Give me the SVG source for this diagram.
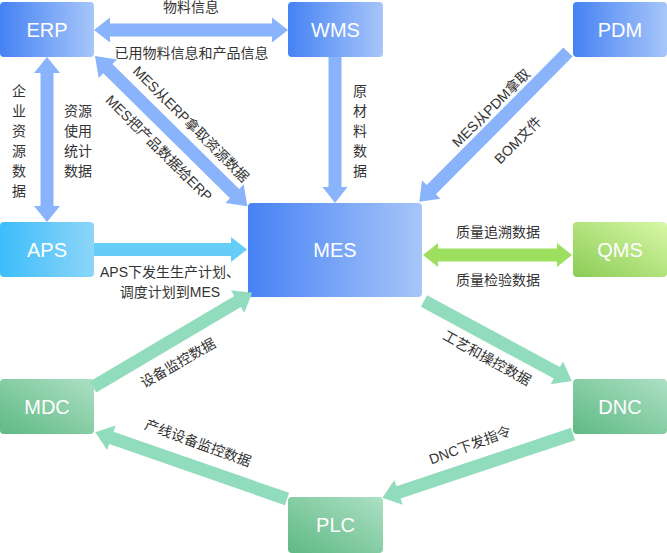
<svg xmlns="http://www.w3.org/2000/svg" width="667" height="553" viewBox="0 0 667 553">
<defs>
<linearGradient id="gBlue" x1="0" y1="0" x2="1" y2="0"><stop offset="0" stop-color="#4682f4"/><stop offset="1" stop-color="#a7c6f9"/></linearGradient>
<linearGradient id="gCyan" x1="0" y1="0" x2="1" y2="0"><stop offset="0" stop-color="#3dbdfb"/><stop offset="1" stop-color="#8cd5f8"/></linearGradient>
<linearGradient id="gLime" x1="0" y1="1" x2="1" y2="0"><stop offset="0" stop-color="#8bcc55"/><stop offset="1" stop-color="#d8f8a6"/></linearGradient>
<linearGradient id="gMint" x1="0" y1="1" x2="1" y2="0"><stop offset="0" stop-color="#5fb984"/><stop offset="1" stop-color="#ace0c4"/></linearGradient>
</defs>
<style>
.nt{font-family:"Liberation Sans","Noto Sans CJK SC",sans-serif;font-size:20px;fill:#ffffff;text-anchor:middle}
.lb{font-family:"Liberation Sans","Noto Sans CJK SC",sans-serif;font-size:14px;fill:#333333;text-anchor:middle}
.ab{fill:#89b3fa}
.ac{fill:#66cdf7}
.al{fill:#9ddf5e}
.am{fill:#92dcbe}
</style>
<g id="ERP"><rect x="0" y="2" width="94" height="55" rx="4" fill="url(#gBlue)"/><text class="nt" x="47" y="37">ERP</text></g>
<g id="WMS"><rect x="288" y="2" width="95" height="55" rx="4" fill="url(#gBlue)"/><text class="nt" x="335.5" y="37">WMS</text></g>
<g id="PDM"><rect x="573" y="2" width="94" height="55" rx="4" fill="url(#gBlue)"/><text class="nt" x="620" y="37">PDM</text></g>
<g id="APS"><rect x="0" y="222" width="94" height="55" rx="4" fill="url(#gCyan)"/><text class="nt" x="47" y="257">APS</text></g>
<g id="MES"><rect x="248" y="203" width="174" height="94" rx="4" fill="url(#gBlue)"/><text class="nt" x="335" y="257">MES</text></g>
<g id="QMS"><rect x="573" y="222" width="94" height="55" rx="4" fill="url(#gLime)"/><text class="nt" x="620" y="257">QMS</text></g>
<g id="MDC"><rect x="0" y="379" width="94" height="55" rx="4" fill="url(#gMint)"/><text class="nt" x="47" y="414">MDC</text></g>
<g id="DNC"><rect x="573" y="379" width="94" height="55" rx="4" fill="url(#gMint)"/><text class="nt" x="620" y="414">DNC</text></g>
<g id="PLC"><rect x="288" y="497" width="95" height="56" rx="4" fill="url(#gMint)"/><text class="nt" x="335.5" y="532">PLC</text></g>
<g id="connectors">
<polygon class="ab" transform="translate(94,30)" points="0,0 16,-12.5 16,-6.5 178,-6.5 178,-12.5 194,0 178,12.5 178,6.5 16,6.5 16,12.5"/>
<polygon class="ab" transform="translate(47,57) rotate(90)" points="0,0 16,-13 16,-6.5 149,-6.5 149,-13 165,0 149,13 149,6.5 16,6.5 16,13"/>
<polygon class="ab" transform="translate(335,57) rotate(90)" points="0,-6.5 130,-6.5 130,-12.5 146,0 130,12.5 130,6.5 0,6.5"/>
<polygon class="ab" transform="translate(95,56) rotate(44.6)" points="0,0 18,-13 18,-6.5 196,-6.5 196,-13 214,0 196,13 196,6.5 18,6.5 18,13"/>
<polygon class="ab" transform="translate(568,52) rotate(134.8)" points="0,-6.5 194,-6.5 194,-13 211,0 194,13 194,6.5 0,6.5"/>
<polygon class="ac" transform="translate(94,249.5)" points="0,-6.5 137,-6.5 137,-12.5 153,0 137,12.5 137,6.5 0,6.5"/>
<polygon class="al" transform="translate(423,255)" points="0,0 15,-12 15,-6.5 134,-6.5 134,-12 149,0 134,12 134,6.5 15,6.5 15,12"/>
<polygon class="am" transform="translate(93,387) rotate(-30.6)" points="0,-6.5 168,-6.5 168,-13 185,0 168,13 168,6.5 0,6.5"/>
<polygon class="am" transform="translate(424,301) rotate(28.4)" points="0,-6.5 151,-6.5 151,-13 168,0 151,13 151,6.5 0,6.5"/>
<polygon class="am" transform="translate(573,434) rotate(161.5)" points="0,-6.5 184,-6.5 184,-13 201,0 184,13 184,6.5 0,6.5"/>
<polygon class="am" transform="translate(287,499) rotate(-160.8)" points="0,-6.5 186,-6.5 186,-13 203,0 186,13 186,6.5 0,6.5"/>
</g>
<g id="labels">
<text class="lb" x="191" y="12">物料信息</text>
<text class="lb" x="191.5" y="58">已用物料信息和产品信息</text>
<text class="lb" x="19" y="96">企</text><text class="lb" x="19" y="116">业</text><text class="lb" x="19" y="136">资</text><text class="lb" x="19" y="156">源</text><text class="lb" x="19" y="176">数</text><text class="lb" x="19" y="196">据</text>
<text class="lb" x="78" y="116">资源</text><text class="lb" x="78" y="136">使用</text><text class="lb" x="78" y="156">统计</text><text class="lb" x="78" y="176">数据</text>
<text class="lb" x="360" y="96">原</text><text class="lb" x="360" y="116">材</text><text class="lb" x="360" y="136">料</text><text class="lb" x="360" y="156">数</text><text class="lb" x="360" y="176">据</text>
<text class="lb" transform="translate(191,124) rotate(45)" y="5">MES从ERP拿取资源数据</text>
<text class="lb" transform="translate(159,148) rotate(45)" y="5">MES把产品数据给ERP</text>
<text class="lb" transform="translate(491,108) rotate(-45)" y="5">MES从PDM拿取</text>
<text class="lb" transform="translate(518,140) rotate(-45)" y="5">BOM文件</text>
<text class="lb" x="170" y="277">APS下发生生产计划、</text>
<text class="lb" x="170" y="297">调度计划到MES</text>
<text class="lb" x="498" y="237">质量追溯数据</text>
<text class="lb" x="498" y="285">质量检验数据</text>
<text class="lb" transform="translate(178,363) rotate(-30)" y="5">设备监控数据</text>
<text class="lb" transform="translate(487,358) rotate(29)" y="5">工艺和操控数据</text>
<text class="lb" transform="translate(470,445) rotate(-20)" y="5">DNC下发指令</text>
<text class="lb" transform="translate(198,443) rotate(20)" y="5">产线设备监控数据</text>
</g>
</svg>
